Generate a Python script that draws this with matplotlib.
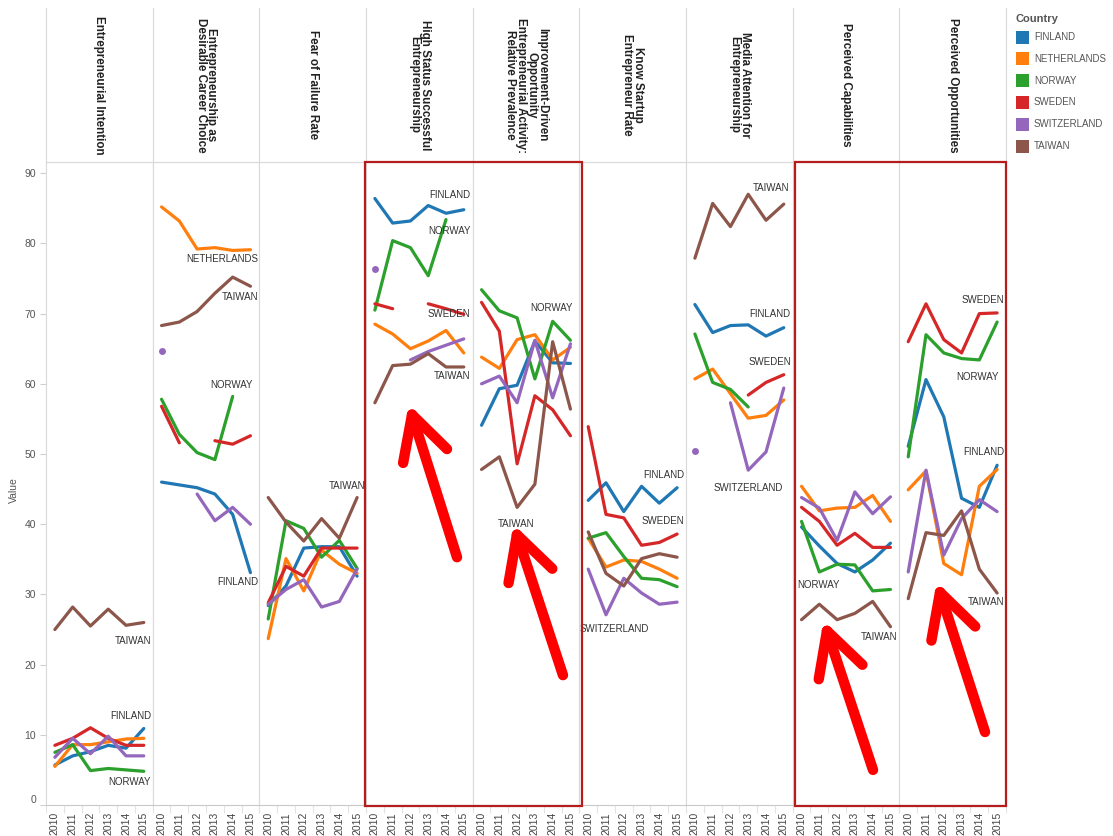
import numpy as np
import matplotlib
matplotlib.use("Agg")
import matplotlib.pyplot as plt
from matplotlib.lines import Line2D
from matplotlib.patches import Rectangle

plt.rcParams['font.family'] = ['Liberation Sans', 'DejaVu Sans']

nan = np.nan
years = [2010, 2011, 2012, 2013, 2014, 2015]
countries = ["FINLAND", "NETHERLANDS", "NORWAY", "SWEDEN", "SWITZERLAND", "TAIWAN"]
colors = ["#1f77b4", "#ff7f0e", "#2ca02c", "#d62728", "#9467bd", "#8c564b"]

metric_titles = [
    "Entrepreneurial Intention",
    "Entrepreneurship as\nDesirable Career Choice",
    "Fear of Failure Rate",
    "High Status Successful\nEntrepreneurship",
    "Improvement-Driven\nOpportunity\nEntrepreneurial Activity:\nRelative Prevalence",
    "Know Startup\nEntrepreneur Rate",
    "Media Attention for\nEntrepreneurship",
    "Perceived Capabilities",
    "Perceived Opportunities",
]

intention = {
    "FINLAND": [5.7, 7.0, 7.6, 8.5, 8.1, 10.9],
    "NETHERLANDS": [5.5, 8.6, 8.6, 9.0, 9.4, 9.5],
    "NORWAY": [7.5, 8.6, 4.9, 5.2, 5.0, 4.8],
    "SWEDEN": [8.5, 9.5, 11.0, 9.5, 8.5, 8.5],
    "SWITZERLAND": [6.8, 9.5, 7.3, 9.8, 7.0, 7.0],
    "TAIWAN": [25.0, 28.2, 25.5, 27.9, 25.6, 26.0],
}
career = {
    "FINLAND": [46.0, 45.6, 45.2, 44.3, 41.4, 33.1],
    "NETHERLANDS": [85.2, 83.2, 79.2, 79.4, 79.0, 79.1],
    "NORWAY": [57.8, 52.8, 50.2, 49.2, 58.2, nan],
    "SWEDEN": [56.8, 51.6, nan, 51.9, 51.4, 52.6],
    "SWITZERLAND": [64.7, nan, 44.3, 40.5, 42.4, 40.0],
    "TAIWAN": [68.3, 68.8, 70.3, 72.9, 75.2, 73.9],
}
fear = {
    "FINLAND": [28.4, 31.2, 36.6, 36.8, 36.8, 32.6],
    "NETHERLANDS": [23.7, 35.1, 30.5, 36.3, 34.3, 33.0],
    "NORWAY": [26.5, 40.5, 39.4, 35.3, 37.7, 33.7],
    "SWEDEN": [28.8, 34.0, 32.6, 36.6, 36.6, 36.6],
    "SWITZERLAND": [28.6, 30.7, 32.1, 28.2, 29.0, 33.6],
    "TAIWAN": [43.8, 40.3, 37.6, 40.8, 38.0, 43.8],
}
status = {
    "FINLAND": [86.4, 82.9, 83.2, 85.4, 84.3, 84.8],
    "NETHERLANDS": [68.5, 67.1, 65.0, 66.1, 67.6, 64.4],
    "NORWAY": [70.5, 80.4, 79.4, 75.4, 83.4, nan],
    "SWEDEN": [71.4, 70.7, nan, 71.4, 70.7, 69.9],
    "SWITZERLAND": [76.3, nan, 63.4, 64.6, 65.5, 66.4],
    "TAIWAN": [57.3, 62.6, 62.8, 64.3, 62.4, 62.4],
}
improvement = {
    "FINLAND": [54.1, 59.3, 59.8, 66.1, 63.0, 62.9],
    "NETHERLANDS": [63.8, 62.2, 66.3, 67.0, 63.4, 65.2],
    "NORWAY": [73.4, 70.4, 69.4, 60.7, 68.9, 66.2],
    "SWEDEN": [71.6, 67.5, 48.6, 58.3, 56.3, 52.6],
    "SWITZERLAND": [60.0, 61.1, 57.3, 66.2, 58.0, 65.7],
    "TAIWAN": [47.8, 49.6, 42.4, 45.7, 66.0, 56.4],
}
know_startup = {
    "FINLAND": [43.4, 45.9, 41.8, 45.4, 43.0, 45.2],
    "NETHERLANDS": [38.0, 33.9, 34.9, 34.7, 33.6, 32.3],
    "NORWAY": [38.0, 38.8, 35.4, 32.3, 32.1, 31.1],
    "SWEDEN": [53.9, 41.4, 40.9, 37.0, 37.4, 38.6],
    "SWITZERLAND": [33.6, 27.1, 32.3, 30.2, 28.6, 28.9],
    "TAIWAN": [38.9, 33.0, 31.2, 35.1, 35.8, 35.3],
}
media = {
    "FINLAND": [71.3, 67.3, 68.3, 68.4, 66.8, 68.0],
    "NETHERLANDS": [60.7, 62.1, 58.6, 55.1, 55.5, 57.7],
    "NORWAY": [67.1, 60.2, 59.2, 56.7, nan, nan],
    "SWEDEN": [nan, nan, nan, 58.4, 60.2, 61.3],
    "SWITZERLAND": [50.5, nan, 57.3, 47.7, 50.3, 59.4],
    "TAIWAN": [77.9, 85.7, 82.4, 87.0, 83.3, 85.6],
}
capabilities = {
    "FINLAND": [39.6, 36.9, 34.4, 33.2, 34.9, 37.3],
    "NETHERLANDS": [45.4, 41.9, 42.3, 42.4, 44.1, 40.4],
    "NORWAY": [40.4, 33.2, 34.3, 34.2, 30.5, 30.7],
    "SWEDEN": [42.4, 40.4, 37.0, 38.7, 36.7, 36.7],
    "SWITZERLAND": [43.8, 42.3, 37.7, 44.6, 41.5, 43.9],
    "TAIWAN": [26.4, 28.6, 26.4, 27.3, 29.0, 25.4],
}
opportunities = {
    "FINLAND": [51.1, 60.6, 55.3, 43.7, 42.4, 48.4],
    "NETHERLANDS": [44.9, 47.6, 34.4, 32.8, 45.4, 47.8],
    "NORWAY": [49.6, 67.0, 64.4, 63.6, 63.4, 68.8],
    "SWEDEN": [66.0, 71.4, 66.3, 64.4, 70.0, 70.1],
    "SWITZERLAND": [33.2, 47.7, 35.6, 40.8, 43.5, 41.8],
    "TAIWAN": [29.4, 38.8, 38.4, 41.9, 33.6, 30.2],
}
metric_data = [intention, career, fear, status, improvement,
               know_startup, media, capabilities, opportunities]

# in-chart mark labels: (panel, country, x, y, ha)
mark_labels = [
    (0, "FINLAND", 5.4, 12.7, "right"), (0, "TAIWAN", 5.4, 23.4, "right"),
    (0, "NORWAY", 5.4, 3.3, "right"),
    (1, "NETHERLANDS", 5.42, 77.8, "right"), (1, "TAIWAN", 5.42, 72.4, "right"),
    (1, "NORWAY", 5.14, 59.8, "right"), (1, "FINLAND", 5.42, 31.8, "right"),
    (2, "TAIWAN", 5.45, 45.4, "right"),
    (3, "FINLAND", 5.38, 86.9, "right"), (3, "NORWAY", 5.38, 81.8, "right"),
    (3, "SWEDEN", 5.38, 69.9, "right"), (3, "TAIWAN", 5.38, 61.1, "right"),
    (4, "NORWAY", 5.14, 70.8, "right"), (4, "TAIWAN", 1.95, 40.0, "center"),
    (5, "FINLAND", 5.39, 47.0, "right"), (5, "SWEDEN", 5.39, 40.5, "right"),
    (5, "SWITZERLAND", 1.48, 25.1, "center"),
    (6, "TAIWAN", 5.29, 87.9, "right"), (6, "FINLAND", 5.39, 69.9, "right"),
    (6, "SWEDEN", 5.39, 63.1, "right"), (6, "SWITZERLAND", 3.0, 45.2, "center"),
    (7, "NORWAY", -0.26, 31.3, "left"), (7, "TAIWAN", 5.36, 23.9, "right"),
    (8, "SWEDEN", 5.39, 71.9, "right"), (8, "NORWAY", 5.11, 61.0, "right"),
    (8, "FINLAND", 5.39, 50.3, "right"), (8, "TAIWAN", 5.39, 28.9, "right"),
]

# red annotation arrows: (panel, tip(x,y), tail(x,y)) in panel data units
arrows = [
    (3, (2.09, 55.6), (4.62, 35.3)),
    (4, (1.99, 38.5), (4.58, 18.5)),
    (7, (1.43, 24.8), (4.02, 5.0)),
    (8, (1.79, 30.3), (4.32, 10.4)),
]
# highlight boxes: (first panel, last panel, left px offset, right px offset)
highlight_groups = [(3, 4, -1.0, 3.0), (7, 8, 2.0, 0.0)]

W, H = 1113, 836
fig = plt.figure(figsize=(W / 100, H / 100), dpi=100)
fig.patch.set_facecolor("white")

PLOT_L, PLOT_R, PLOT_T, PLOT_B = 46, 1006, 162, 805
HEAD_T = 8
n = len(metric_titles)
pw = (PLOT_R - PLOT_L) / n


def fx(px):
    return px / W


def fy(py):
    return 1 - py / H


GRID = "#d9d9d9"
axes = []
for i, (title, data) in enumerate(zip(metric_titles, metric_data)):
    L = PLOT_L + i * pw
    ax = fig.add_axes([fx(L), fy(PLOT_B), pw / W, (PLOT_B - PLOT_T) / H])
    ax.set_xlim(-0.5, len(years) - 0.5)
    ax.set_ylim(0, 91.6)
    xs = np.arange(len(years))
    for c, col in zip(countries, colors):
        vals = np.array(data[c], dtype=float)
        ax.plot(xs, vals, color=col, lw=2.3, solid_joinstyle="round",
                solid_capstyle="round", zorder=3)
        for j, v in enumerate(vals):
            if np.isnan(v):
                continue
            prev = vals[j - 1] if j > 0 else nan
            nxt = vals[j + 1] if j < len(vals) - 1 else nan
            if np.isnan(prev) and np.isnan(nxt):
                ax.plot([j], [v], "o", color=col, ms=5, mec="none", zorder=3)
    ax.set_xticks(xs)
    ax.set_xticklabels([str(y) for y in years], rotation=90, fontsize=7.5,
                       color="#444")
    ax.tick_params(axis="x", length=0, pad=5)
    ax.set_xticks(np.arange(-0.5, len(years), 1), minor=True)
    ax.tick_params(axis="x", which="minor", length=6, color="#e3e3e3", width=0.8)
    for s in ["left", "right", "top"]:
        ax.spines[s].set_color(GRID)
        ax.spines[s].set_linewidth(0.8)
    ax.spines["bottom"].set_color("#c8c8c8")
    ax.spines["bottom"].set_linewidth(0.8)
    if i == 0:
        ax.set_yticks(np.arange(0, 91, 10))
        ax.set_yticklabels([str(v) for v in range(0, 91, 10)], fontsize=7.5,
                           color="#555")
        ax.tick_params(axis="y", length=4, color="#cfcfcf", pad=3)
        ax.get_yticklabels()[0].set_verticalalignment("bottom")
    else:
        ax.set_yticks([])
    axes.append(ax)

    # header
    fig.add_artist(Line2D([fx(L), fx(L)], [fy(HEAD_T), fy(PLOT_T)],
                          color=GRID, lw=0.8, transform=fig.transFigure))
    fig.text(fx(L + pw / 2), fy(85), title, rotation=270, ha="center",
             va="center", multialignment="center", fontsize=8.4,
             fontweight="bold", color="#222", linespacing=0.85)

fig.add_artist(Line2D([fx(PLOT_R), fx(PLOT_R)], [fy(HEAD_T), fy(PLOT_T)],
                      color=GRID, lw=0.8, transform=fig.transFigure))

# mark labels
for p, name, x, y, ha in mark_labels:
    axes[p].text(x, y, name, ha=ha, va="center", fontsize=7, color="#333",
                 clip_on=False, zorder=5)

# y label
fig.text(fx(14), fy(490), "Value", rotation=90, ha="center", va="center",
         fontsize=7.5, color="#555")

# highlight boxes
for a, b, off_l, off_r in highlight_groups:
    p0 = axes[a].get_position()
    p1 = axes[b].get_position()
    x0 = p0.x0 + fx(off_l)
    x1 = p1.x1 + fx(off_r)
    y0 = p0.y0 - 1.0 / H
    y1 = p0.y1
    fig.add_artist(Rectangle((x0, y0), x1 - x0, y1 - y0, fill=False,
                             ec="#b71c1c", lw=1.6, transform=fig.transFigure,
                             zorder=10))

# red arrows
inv = fig.transFigure.inverted()
for p, tip, tail in arrows:
    t = axes[p].transData.transform(tip)
    e = axes[p].transData.transform(tail)
    d = (e - t) / np.hypot(*(e - t))
    segs = [np.array([e, t])]
    for ang in (np.radians(28), -np.radians(28)):
        r = np.array([d[0] * np.cos(ang) - d[1] * np.sin(ang),
                      d[0] * np.sin(ang) + d[1] * np.cos(ang)])
        segs.append(np.array([t, t + 49 * r]))
    for sgm in segs:
        f = inv.transform(sgm)
        fig.add_artist(Line2D(f[:, 0], f[:, 1], color="#ff0000", lw=7.5,
                              solid_capstyle="round", solid_joinstyle="round",
                              transform=fig.transFigure, zorder=12))

# legend
fig.text(fx(1015), fy(19), "Country", ha="left", va="center", fontsize=8,
         fontweight="bold", color="#555")
for k, (c, col) in enumerate(zip(countries, colors)):
    yc = 37 + k * 21.8
    fig.add_artist(Rectangle((fx(1016), fy(yc + 6.5)), 13 / W, 13 / H,
                             fc=col, ec="none", transform=fig.transFigure))
    fig.text(fx(1034), fy(yc), c, ha="left", va="center", fontsize=7,
             color="#555")

fig.savefig("out.png", dpi=100, facecolor="white")
